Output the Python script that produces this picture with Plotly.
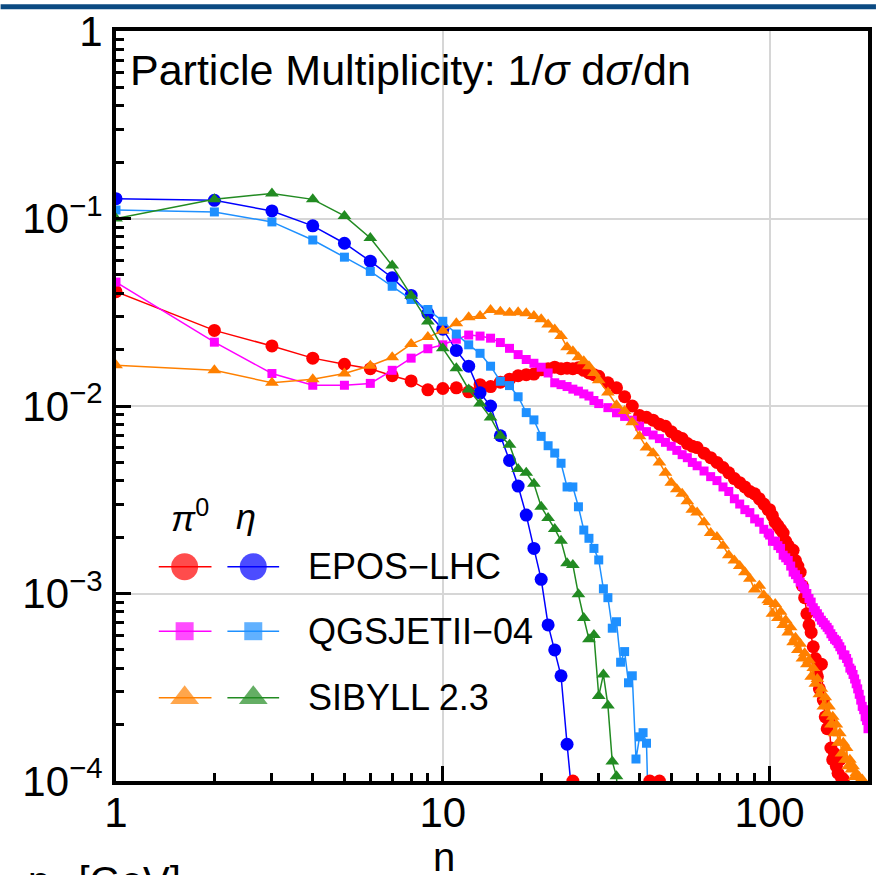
import math
import plotly.graph_objects as go

# ---------------- data ----------------
n_int = list(range(1, 31))
n_pi0 = n_int + list(range(32, 61, 2)) + list(range(63, 100, 3)) + list(range(100, 201, 2))

epos_pi0 = [0.0407, 0.0253, 0.0209, 0.0180, 0.0167, 0.0158, 0.0145, 0.0136, 0.0122, 0.0124,
            0.0125, 0.0119, 0.0130, 0.0127, 0.0134, 0.0139, 0.0145, 0.0147, 0.0148, 0.0156,
            0.0158, 0.0161, 0.0158, 0.0159, 0.0158, 0.0160, 0.0155, 0.0150, 0.0147, 0.0144,
            0.0133, 0.0125, 0.0112, 0.0100, 0.0089, 0.0087, 0.0084, 0.0080, 0.0078, 0.0073,
            0.0069, 0.0067, 0.0063, 0.0061, 0.0060,
            0.0056, 0.0053, 0.0050, 0.0047, 0.0044, 0.0041, 0.0039, 0.0037, 0.0035, 0.0034,
            0.0032, 0.0030, 0.0028,
            0.0028, 0.0026, 0.0024, 0.0023, 0.0022, 0.0021, 0.0019, 0.0018, 0.0017, 0.0017,
            0.0015, 0.0014, 0.0013, 0.0011, 0.00095, 0.00078, 0.00068, 0.00062, 0.00052, 0.00045,
            0.00036, 0.00031, 0.00042, 0.00027, 0.00022, 0.00019, 0.00021, 0.00015, 0.00013, 0.00014,
            0.00012, 0.00011, 0.00013, 0.000104, 0.000102, 0.00005]

qgs_pi0 = [0.0458, 0.0219, 0.0149, 0.0129, 0.0129, 0.0132, 0.0155, 0.0180, 0.0202, 0.0212,
           0.0227, 0.0239, 0.0236, 0.0230, 0.0218, 0.0203, 0.0188, 0.0177, 0.0169, 0.0161,
           0.0150, 0.0133, 0.0130, 0.0127, 0.0123, 0.0120, 0.0116, 0.0113, 0.0107, 0.0103,
           0.0098, 0.0092, 0.0088, 0.0084, 0.0078, 0.0073, 0.0070, 0.0067, 0.0064, 0.0061,
           0.0058, 0.0055, 0.0053, 0.0050, 0.0048,
           0.0045, 0.0042, 0.0040, 0.0037, 0.0035, 0.0032, 0.0030, 0.0028, 0.0027, 0.0025,
           0.0024, 0.0022, 0.0021,
           0.00205, 0.0019, 0.0019, 0.0018, 0.00174, 0.0016, 0.00155, 0.0015, 0.0014, 0.0013,
           0.00126, 0.0012, 0.00115, 0.0011, 0.00106, 0.0010, 0.00094, 0.0009, 0.00084, 0.00081,
           0.00078, 0.00075, 0.00072, 0.0007, 0.00068, 0.00066, 0.00064, 0.00061, 0.00059, 0.00057,
           0.00056, 0.00054, 0.00052, 0.0005, 0.00047, 0.00047, 0.00045, 0.00043, 0.0004, 0.00039,
           0.00037, 0.00035, 0.00033, 0.00031, 0.00029, 0.00027, 0.00025, 0.00024, 0.00022, 0.00021,
           0.00019]

sib_pi0 = [0.0165, 0.0155, 0.0133, 0.0139, 0.0149, 0.0164, 0.0182, 0.0214, 0.0233, 0.0252,
           0.0276, 0.0297, 0.0302, 0.0325, 0.0318, 0.0314, 0.0316, 0.0312, 0.0302, 0.0290,
           0.0272, 0.0256, 0.0236, 0.0206, 0.0196, 0.0182, 0.0173, 0.0163, 0.0150, 0.0137,
           0.0118, 0.0101, 0.0094, 0.0082, 0.0069, 0.0060, 0.0056, 0.0050, 0.0044, 0.0039,
           0.0036, 0.0034, 0.0031, 0.0028, 0.0027,
           0.0024, 0.0021, 0.0020, 0.0018, 0.0016, 0.0015, 0.0014, 0.0013, 0.0012, 0.00105,
           0.0011, 0.00098, 0.00092,
           0.0009, 0.00078, 0.00088, 0.00074, 0.0008, 0.00068, 0.00072, 0.00062, 0.00066, 0.00055,
           0.00058, 0.00050, 0.00054, 0.00045, 0.00048, 0.00042, 0.00044, 0.00036, 0.0004, 0.00033,
           0.00035, 0.00029, 0.00031, 0.00025, 0.00028, 0.00023, 0.00025, 0.0002, 0.00022, 0.00018,
           0.0002, 0.00016, 0.00018, 0.00014, 0.00016, 0.00013, 0.00015, 0.00012, 0.00013, 0.000115,
           0.00012, 0.000105, 0.00011, 0.00005, 0.000105, 0.00005, 0.000102, 0.00005]

epos_eta = [0.1276, 0.125, 0.1097, 0.0914, 0.0738, 0.0592, 0.0483, 0.0389, 0.0312, 0.0257,
            0.0198, 0.0163, 0.01175, 0.0100, 0.00694, 0.00512, 0.00374, 0.00262, 0.00174, 0.00119,
            0.00068, 0.0005, 0.000364, 0.000157, 0.000075]

qgs_eta = [0.111, 0.1084, 0.0959, 0.0768, 0.0622, 0.0522, 0.0435, 0.0370, 0.0327, 0.0283,
           0.0242, 0.0212, 0.0191, 0.0163, 0.01355, 0.01285, 0.0112, 0.00922, 0.00843, 0.00689,
           0.00614, 0.00561, 0.00495, 0.0037, 0.0037, 0.0029, 0.00218, 0.00197, 0.00174, 0.00151,
           0.00106, 0.00095, 0.000653, 0.000707, 0.00043, 0.00049, 0.000334, 0.000364, 0.000131, 0.000172,
           0.000181, 0.000159, 0.000034]

sib_eta = [0.100, 0.1265, 0.136, 0.1265, 0.1032, 0.0787, 0.0561, 0.0387, 0.0282, 0.0203,
           0.0159, 0.01225, 0.01032, 0.00867, 0.00694, 0.00622, 0.00462, 0.0044, 0.00385, 0.0029,
           0.00253, 0.00221, 0.00191, 0.00145, 0.00142, 0.00099, 0.00074, 0.00057, 0.0006, 0.000284,
           0.00037, 0.000253, 0.000127, 0.000106, 0.00004]

# red points sitting on the lower frame edge
edge_n = [25, 43, 46]
edge_v = [1e-4, 1e-4, 1e-4]

x_tickvals = [1, 10, 100]
x_ticktext = ["1", "10", "100"]
y_tickvals = [1, 1e-1, 1e-2, 1e-3, 1e-4]
y_ticktext = ["1", "10<sup>−1</sup>", "10<sup>−2</sup>", "10<sup>−3</sup>", "10<sup>−4</sup>"]

models = ["EPOS−LHC", "QGSJETII−04", "SIBYLL 2.3"]

RED, BLUE = "#ff0000", "#0000ff"
MAG, LBLUE = "#ff00ff", "#1e90ff"
ORANGE, GREEN = "#ff8000", "#228b22"

# ---------------- figure ----------------
W, H = 880, 875
L, R, T, B = 116, 872, 25, 781  # plot area in pixels


def px(x):
    return (x - L) / (R - L)


def py(y):
    return (B - y) / (B - T)


FONT = "Liberation Sans, Arial, sans-serif"
fig = go.Figure()


def add_series(xs, ys, color, symbol, size):
    fig.add_trace(go.Scatter(
        x=xs, y=ys, mode="lines+markers",
        line=dict(color=color, width=1.5),
        marker=dict(color=color, symbol=symbol, size=size, line=dict(width=0)),
        showlegend=False, hoverinfo="skip"))


add_series(n_pi0[:len(epos_pi0)], epos_pi0, RED, "circle", 13)
add_series(list(range(1, len(epos_eta) + 1)), epos_eta, BLUE, "circle", 13)
add_series(n_pi0[:len(qgs_pi0)], qgs_pi0, MAG, "square", 9)
add_series(list(range(1, len(qgs_eta) + 1)), qgs_eta, LBLUE, "square", 9)
add_series(n_pi0[:len(sib_pi0)], sib_pi0, ORANGE, "triangle-up", 12)
add_series(list(range(1, len(sib_eta) + 1)), sib_eta, GREEN, "triangle-up", 12)
fig.add_trace(go.Scatter(x=edge_n, y=edge_v, mode="markers",
                         marker=dict(color=RED, size=13, line=dict(width=0)),
                         showlegend=False, hoverinfo="skip"))

# custom legend drawn on an overlay pixel axis
leg_rows = [(565, RED, BLUE, "circle", 27),
            (630, MAG, LBLUE, "square", 18),
            (697, ORANGE, GREEN, "triangle-up", 25)]
for (yy, c1, c2, sym, sz), name in zip(leg_rows, models):
    for (x0, xc, x1, c) in [(159, 185, 212, c1), (228, 254, 280, c2)]:
        fig.add_trace(go.Scatter(
            x=[x0, xc, x1], y=[yy, yy, yy], mode="lines+markers",
            xaxis="x2", yaxis="y2",
            line=dict(color=c, width=1.5),
            marker=dict(color=c, symbol=sym, size=[0, sz, 0], line=dict(width=0)),
            showlegend=False, hoverinfo="skip"))

annotations = []
for (yy, *_), name in zip(leg_rows, models):
    annotations.append(dict(x=px(307), y=py(yy), xref="paper", yref="paper", text=name,
                            showarrow=False, xanchor="left", yanchor="middle",
                            font=dict(size=36, color="black", family=FONT)))
annotations.append(dict(x=px(190), y=py(514), xref="paper", yref="paper",
                        text="<i>π</i><sup>0</sup>", showarrow=False,
                        xanchor="center", yanchor="middle",
                        font=dict(size=36, color="black", family=FONT)))
annotations.append(dict(x=px(247), y=py(514), xref="paper", yref="paper",
                        text="<i>η</i>", showarrow=False,
                        xanchor="center", yanchor="middle",
                        font=dict(size=36, color="black", family=FONT)))
annotations.append(dict(x=px(128), y=py(64), xref="paper", yref="paper",
                        text="Particle Multiplicity: 1/<i>σ</i> d<i>σ</i>/dn", showarrow=False,
                        xanchor="left", yanchor="middle",
                        font=dict(size=43, color="black", family=FONT)))
annotations.append(dict(x=px(446), y=py(858), xref="paper", yref="paper",
                        text="n", showarrow=False, xanchor="center", yanchor="middle",
                        font=dict(size=40, color="black", family=FONT)))
annotations.append(dict(x=px(26), y=py(858), xref="paper", yref="paper",
                        text="p<sub>T</sub> [GeV]", showarrow=False, xanchor="left", yanchor="top",
                        font=dict(size=40, color="black", family=FONT)))

minor_x = [k for k in range(2, 10)] + [10 * k for k in range(2, 10)] + [200]
minor_y = [k * 10.0 ** e for e in range(-4, 0) for k in range(2, 10)]

fig.update_layout(
    width=W, height=H,
    margin=dict(l=L, r=W - R, t=T, b=H - B, pad=0),
    paper_bgcolor="white", plot_bgcolor="white",
    showlegend=False,
    font=dict(family=FONT, color="black"),
    annotations=annotations,
    shapes=[dict(type="rect", xref="paper", yref="paper",
                 x0=px(0), x1=px(W), y0=py(3), y1=py(-2),
                 fillcolor="#0b4a82", line=dict(width=0), layer="above")],
    xaxis=dict(type="log", range=[0, math.log10(200)],
               tickvals=x_tickvals, ticktext=x_ticktext,
               ticks="inside", ticklen=15, tickwidth=2.5, tickcolor="black",
               tickfont=dict(size=42, color="black", family=FONT),
               ticklabelstandoff=-8,
               showgrid=True, gridcolor="#d6d6d6", gridwidth=1.5,
               minor=dict(tickvals=minor_x, ticks="inside", ticklen=8, tickwidth=2.5,
                          tickcolor="black", showgrid=False),
               showline=True, linecolor="black", linewidth=4, mirror=True, zeroline=False),
    yaxis=dict(type="log", range=[-4, 0],
               tickvals=y_tickvals, ticktext=y_ticktext,
               ticks="inside", ticklen=15, tickwidth=2.5, tickcolor="black",
               tickfont=dict(size=42, color="black", family=FONT),
               ticklabelstandoff=1,
               showgrid=True, gridcolor="#d6d6d6", gridwidth=1.5,
               minor=dict(tickvals=minor_y, ticks="inside", ticklen=8, tickwidth=2.5,
                          tickcolor="black", showgrid=False),
               showline=True, linecolor="black", linewidth=4, mirror=True, zeroline=False),
    xaxis2=dict(overlaying="x", anchor="y2", range=[L, R], visible=False, fixedrange=True),
    yaxis2=dict(overlaying="y", anchor="x2", range=[B, T], visible=False, fixedrange=True),
)

fig.write_html("out.html")
